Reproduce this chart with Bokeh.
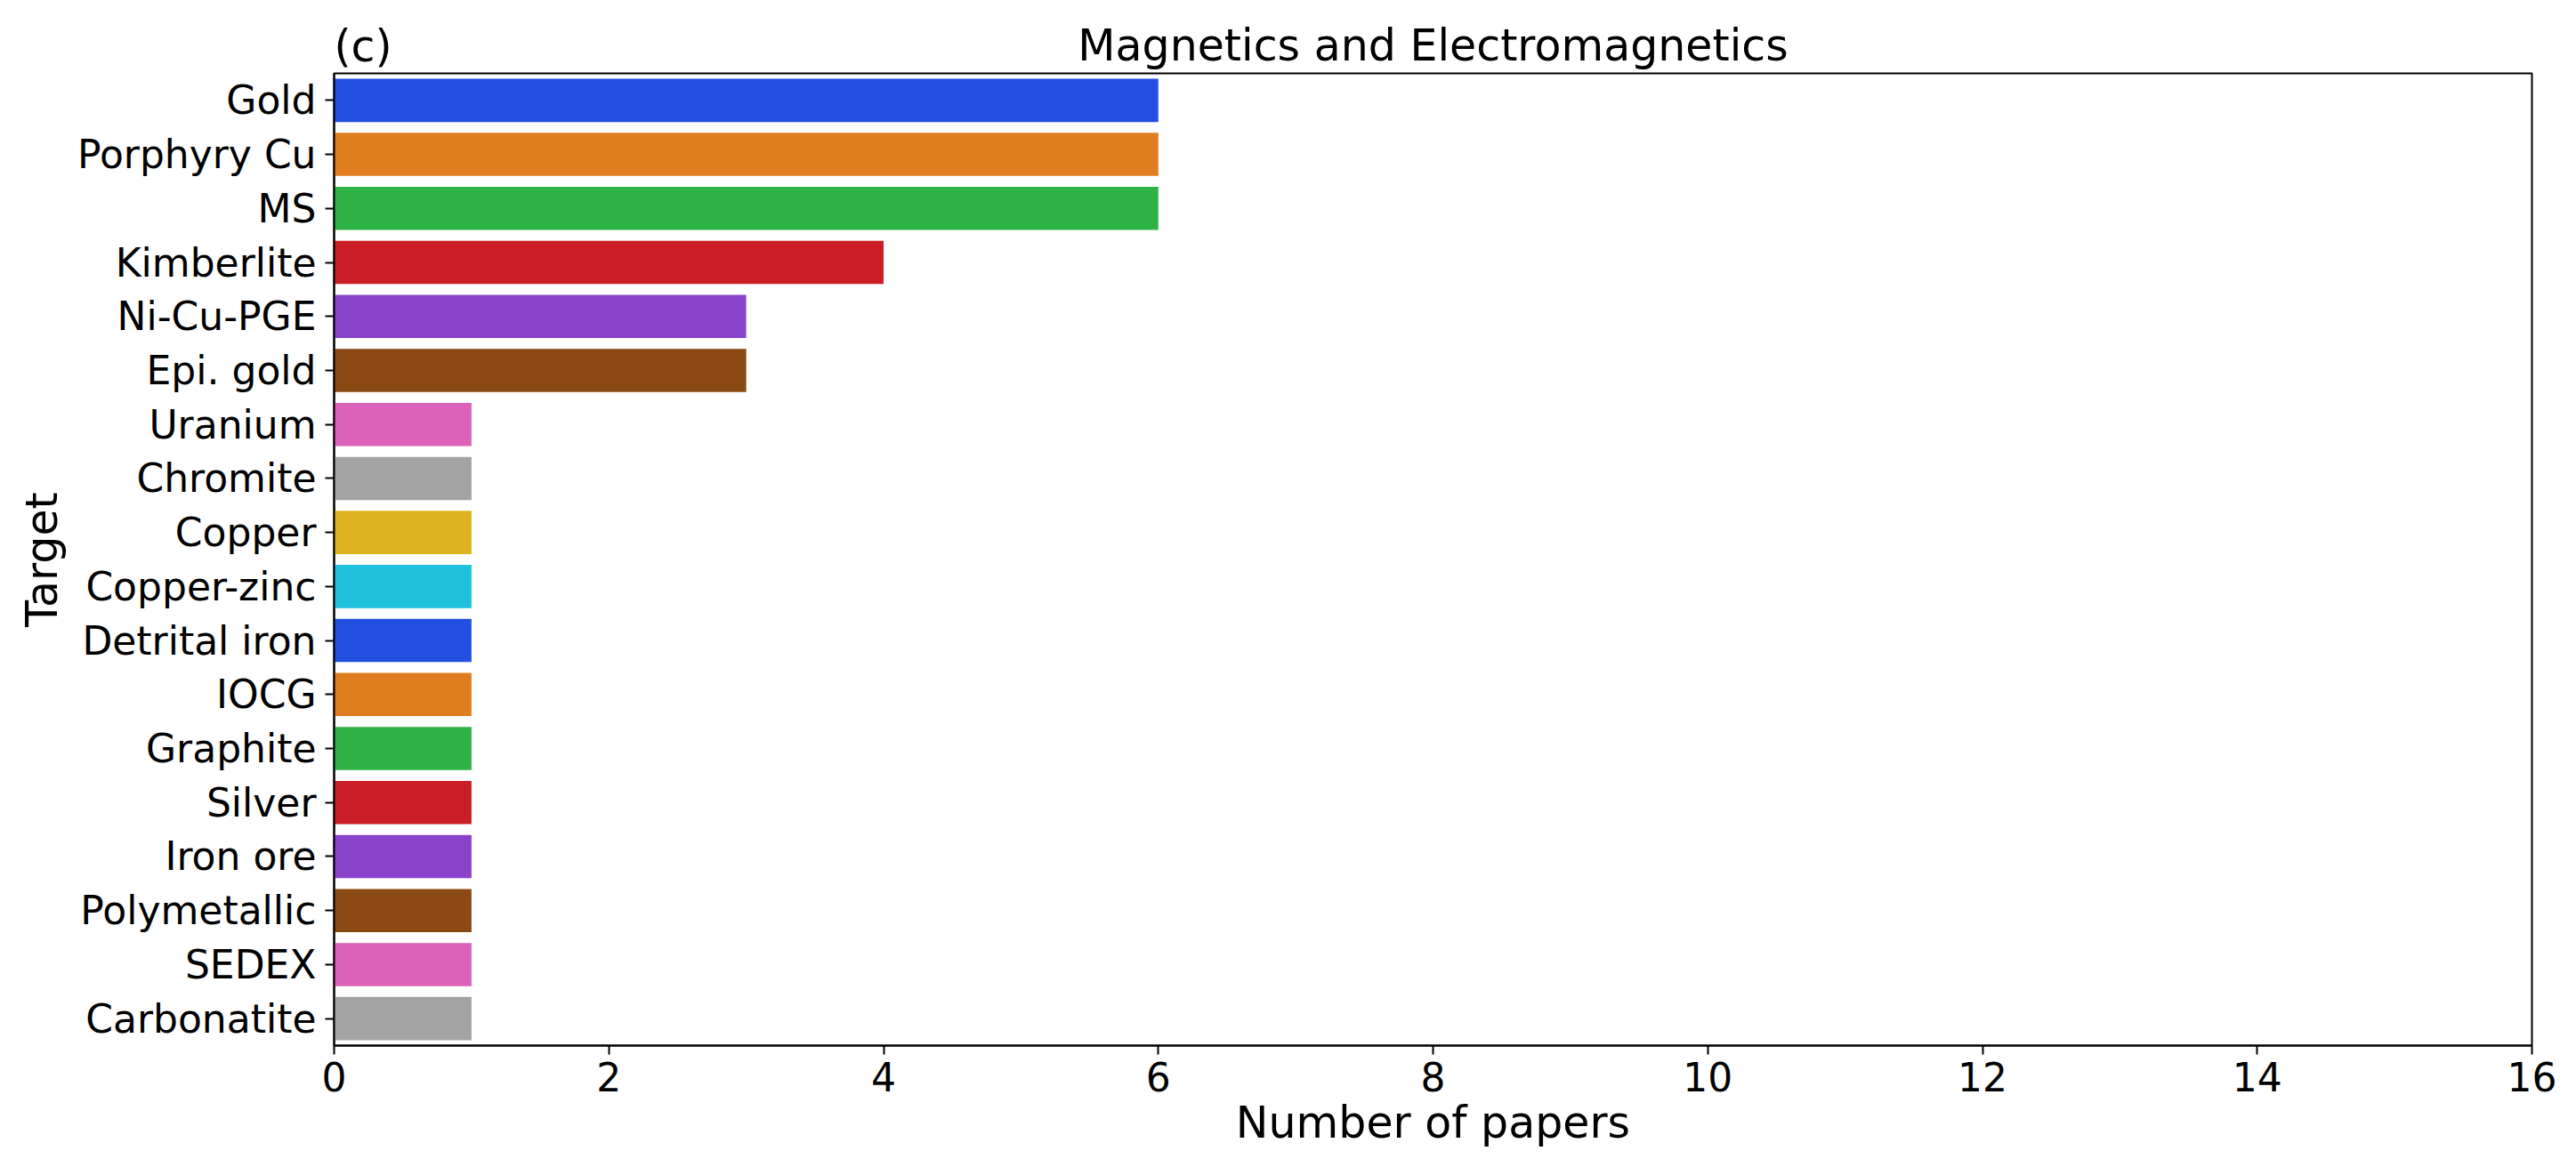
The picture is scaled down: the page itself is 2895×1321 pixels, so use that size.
from bokeh.plotting import figure
from bokeh.models import FactorRange, Range1d, FixedTicker, Title, ColumnDataSource
from bokeh.embed import file_html
from bokeh.resources import INLINE

# ---- data ----
categories = ["Gold", "Porphyry Cu", "MS", "Kimberlite", "Ni-Cu-PGE", "Epi. gold",
              "Uranium", "Chromite", "Copper", "Copper-zinc", "Detrital iron", "IOCG",
              "Graphite", "Silver", "Iron ore", "Polymetallic", "SEDEX", "Carbonatite"]
papers = [6, 6, 6, 4, 3, 3, 1, 1, 1, 1, 1, 1, 1, 1, 1, 1, 1, 1]
x_ticks = [0, 2, 4, 6, 8, 10, 12, 14, 16]
title_text = "Magnetics and Electromagnetics"
panel_tag = "(c)"
x_label = "Number of papers"
y_label = "Target"

# ---- style ----
palette = ["#224fdf", "#df7d20", "#30b346", "#cb1d25", "#8a42cb",
           "#8b4a14", "#dc61b8", "#a3a3a3", "#dfb320", "#20c1df"]
colors = [palette[i % len(palette)] for i in range(len(categories))]
FONT = "DejaVu Sans"
TITLE_SIZE = 49

W, H = 2895, 1321
MB_L, MB_R, MB_T, MB_B = 375, 50, 82, 146

src = ColumnDataSource(dict(cat=categories, val=papers, color=colors))

p = figure(width=W, height=H, title=None,
           y_range=FactorRange(factors=categories[::-1], range_padding=0),
           x_range=Range1d(0, x_ticks[-1]),
           output_backend="svg", toolbar_location=None,
           min_border_left=MB_L, min_border_right=MB_R,
           min_border_top=MB_T, min_border_bottom=MB_B)

p.hbar(y="cat", left=0, right="val", height=0.8, fill_color="color",
       line_color=None, source=src)

p.xgrid.visible = False
p.ygrid.visible = False
p.outline_line_color = "black"
p.outline_line_width = 2
p.outline_line_alpha = 1
p.background_fill_color = "white"
p.border_fill_color = "white"

p.xaxis.ticker = FixedTicker(ticks=x_ticks)
for ax in (p.xaxis[0], p.yaxis[0]):
    ax.axis_line_color = "black"
    ax.axis_line_width = 2
    ax.major_tick_line_color = "black"
    ax.major_tick_line_width = 2
    ax.major_tick_out = 10
    ax.major_tick_in = 0
    ax.minor_tick_line_color = None
    ax.major_label_text_font = FONT
    ax.major_label_text_font_size = "44px"
    ax.major_label_text_color = "black"
    ax.axis_label_text_font = FONT
    ax.axis_label_text_font_size = "49px"
    ax.axis_label_text_font_style = "normal"
    ax.axis_label_text_color = "black"

p.xaxis.major_label_standoff = 8
p.yaxis.major_label_standoff = 10
p.xaxis.axis_label = x_label
p.yaxis.axis_label = y_label
p.xaxis.axis_label_standoff = 4
p.yaxis.axis_label_standoff = 8

# panel tag (left) and main title (centred) on the same line above the frame
tag = Title(text=panel_tag, align="left", text_font=FONT,
            text_font_size=f"{TITLE_SIZE}px", text_font_style="normal",
            text_color="black", standoff=3)
main = Title(text=title_text, align="center", text_font=FONT,
             text_font_size=f"{TITLE_SIZE}px", text_font_style="normal",
             text_color="black", standoff=-119)
p.add_layout(tag, "above")
p.add_layout(main, "above")

open("out.html", "w").write(file_html(p, INLINE))
